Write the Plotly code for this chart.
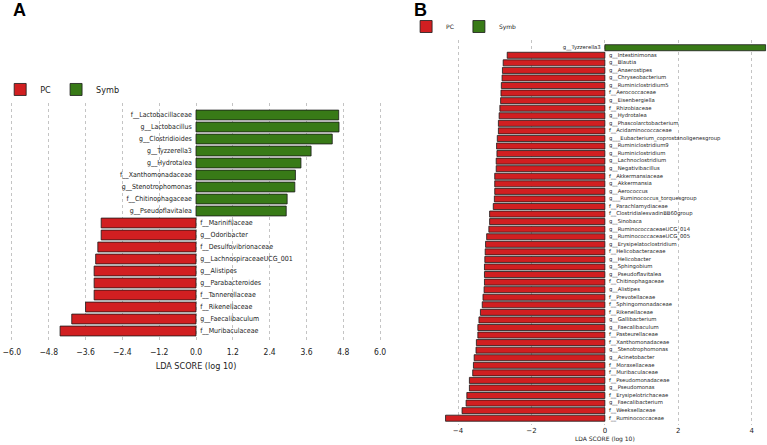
import plotly.graph_objects as go

# ---------------- Panel A data ----------------
A_symb_names = ["f__Lactobacillaceae", "g__Lactobacillus", "g__Clostridioides", "g__Tyzzerella3",
                "g__Hydrotalea", "f__Xanthomonadaceae", "g__Stenotrophomonas",
                "f__Chitinophagaceae", "g__Pseudoflavitalea"]
A_symb_scores = [4.65, 4.66, 4.44, 3.75, 3.42, 3.24, 3.22, 2.97, 2.94]

A_pc_names = ["f__Marinifilaceae", "g__Odoribacter", "f__Desulfovibrionaceae",
              "g__LachnospiraceaeUCG_001", "g__Alistipes", "g__Parabacteroides",
              "f__Tannerellaceae", "f__Rikenellaceae", "g__Faecalibaculum", "f__Muribaculaceae"]
A_pc_scores = [3.09, 3.09, 3.20, 3.27, 3.32, 3.32, 3.32, 3.60, 4.05, 4.43]

# ---------------- Panel B data ----------------
B_symb_names = ["g__Tyzzerella3"]
B_symb_scores = [4.38]

B_pc_names = ["g__Intestinimonas", "g__Blautia", "g__Anaerostipes", "g__Chryseobacterium",
              "g__Ruminiclostridium5", "f__Aerococcaceae", "g__Eisenbergiella", "f__Rhizobiaceae",
              "g__Hydrotalea", "g__Phascolarctobacterium", "f__Acidaminococcaceae",
              "g___Eubacterium_coprostanoligenesgroup", "g__Ruminiclostridium9",
              "g__Ruminiclostridium", "g__Lachnoclostridium", "g__Negativibacillus",
              "f__Akkermansiaceae", "g__Akkermansia", "g__Aerococcus",
              "g___Ruminococcus_torquesgroup", "f__Parachlamydiaceae",
              "f__ClostridialesvadinBB60group", "g__Sinobaca", "g__RuminococcaceaeUCG_014",
              "g__RuminococcaceaeUCG_005", "g__Erysipelatoclostridium", "f__Helicobacteraceae",
              "g__Helicobacter", "g__Sphingobium", "g__Pseudoflavitalea", "f__Chitinophagaceae",
              "g__Alistipes", "f__Prevotellaceae", "f__Sphingomonadaceae", "f__Rikenellaceae",
              "g__Gallibacterium", "g__Faecalibaculum", "f__Pasteurellaceae",
              "f__Xanthomonadaceae", "g__Stenotrophomonas", "g__Acinetobacter",
              "f__Moraxellaceae", "f__Muribaculaceae", "f__Pseudomonadaceae", "g__Pseudomonas",
              "f__Erysipelotrichaceae", "g__Faecalibacterium", "f__Weeksellaceae",
              "f__Ruminococcaceae"]
B_pc_scores = [2.66, 2.77, 2.79, 2.80, 2.82, 2.83, 2.84, 2.86, 2.88, 2.90, 2.90, 2.93, 2.95,
               2.94, 2.96, 2.96, 3.00, 3.00, 3.00, 3.01, 3.04, 3.14, 3.14, 3.16, 3.22, 3.25,
               3.26, 3.27, 3.28, 3.28, 3.28, 3.29, 3.32, 3.34, 3.39, 3.43, 3.46, 3.46, 3.50,
               3.51, 3.56, 3.58, 3.60, 3.69, 3.69, 3.76, 3.78, 3.89, 4.34]

GROUPS = ["PC", "Symb"]
RED = "#d11f21"
GREEN = "#387a17"
EDGE = "#1a1a1a"

NARROW = "Liberation Sans Narrow, DejaVu Sans Condensed, Arial Narrow, sans-serif"
REG = "DejaVu Sans, sans-serif"

fig = go.Figure()


def add_panel(symb_names, symb_scores, pc_names, pc_scores, xa, ya, legend, font, fsize, width):
    fig.add_trace(go.Bar(
        y=pc_names, x=[-v for v in pc_scores], orientation="h", name=GROUPS[0],
        marker=dict(color=RED, line=dict(color=EDGE, width=0.8)), width=width,
        xaxis=xa, yaxis=ya, legend=legend, hoverinfo="skip"))
    fig.add_trace(go.Bar(
        y=symb_names, x=symb_scores, orientation="h", name=GROUPS[1],
        marker=dict(color=GREEN, line=dict(color=EDGE, width=0.8)), width=width,
        xaxis=xa, yaxis=ya, legend=legend, hoverinfo="skip"))
    for names, pos in ((symb_names, "middle left"), (pc_names, "middle right")):
        fig.add_trace(go.Scatter(
            y=names, x=[0] * len(names), mode="markers+text", text=names,
            marker=dict(size=5, color="rgba(0,0,0,0)"),
            textposition=pos, textfont=dict(family=font, size=fsize, color="#222"),
            xaxis=xa, yaxis=ya, showlegend=False, hoverinfo="skip", cliponaxis=False))


add_panel(A_symb_names, A_symb_scores, A_pc_names, A_pc_scores, "x", "y", "legend", NARROW, 7, 0.82)
add_panel(B_symb_names, B_symb_scores, B_pc_names, B_pc_scores, "x2", "y2", "legend2", REG, 5.3, 0.8)

A_cats = A_symb_names + A_pc_names
B_cats = B_symb_names + B_pc_names

grid = dict(showgrid=True, gridcolor="#c4c4c4", gridwidth=1, griddash="3px,3px",
            zeroline=False, showline=False, ticks="", ticklabeloverflow="allow")

fig.update_layout(
    width=767, height=445,
    margin=dict(l=0, r=0, t=0, b=0),
    paper_bgcolor="white", plot_bgcolor="white",
    barmode="overlay",
    showlegend=True,
    hovermode=False,
    xaxis=dict(domain=[0.0023, 0.501], range=[-6.2, 6.2], tick0=0, dtick=1.2, tickformat=".1f",
               tickfont=dict(family=NARROW, size=8.5, color="#222"), ticklabelstandoff=4,
               title=dict(text="LDA SCORE (log 10)", font=dict(family=NARROW, size=9, color="#222"),
                          standoff=6), **grid),
    yaxis=dict(domain=[0.2319, 0.7685], type="category", categoryorder="array",
               categoryarray=A_cats, range=[18.9, -1], showticklabels=False,
               showgrid=False, zeroline=False, showline=False, ticks=""),
    xaxis2=dict(domain=[0.5758, 0.9992], range=[-4.4, 4.4], tick0=0, dtick=2,
                tickfont=dict(family=REG, size=7, color="#222"),
                title=dict(text="LDA SCORE (log 10)", font=dict(family=REG, size=6, color="#222"),
                           standoff=1), anchor="y2", **grid),
    yaxis2=dict(domain=[0.0449, 0.9101], type="category", categoryorder="array",
                categoryarray=B_cats, range=[49.9, -1.02], showticklabels=False, anchor="x2",
                showgrid=False, zeroline=False, showline=False, ticks=""),
    legend=dict(x=-0.005, y=0.8315, xanchor="left", yanchor="top", orientation="h",
                font=dict(family=NARROW, size=9, color="#222"), bgcolor="rgba(0,0,0,0)",
                itemwidth=30, traceorder="normal"),
    legend2=dict(x=0.527, y=0.973, xanchor="left", yanchor="top", orientation="h",
                 font=dict(family=REG, size=6, color="#222"), bgcolor="rgba(0,0,0,0)",
                 itemwidth=30, traceorder="normal"),
    annotations=[
        dict(text="<b>A</b>", x=0.009, y=1.0, yshift=2, xref="paper", yref="paper", xanchor="left",
             yanchor="top", showarrow=False,
             font=dict(family="Liberation Sans, Arial, sans-serif", size=18, color="black")),
        dict(text="<b>B</b>", x=0.535, y=1.0, yshift=2, xref="paper", yref="paper", xanchor="left",
             yanchor="top", showarrow=False,
             font=dict(family="Liberation Sans, Arial, sans-serif", size=18, color="black")),
    ],
)

fig.write_html("out.html", config={"displayModeBar": False},
               post_script="document.body.style.margin='0';")
